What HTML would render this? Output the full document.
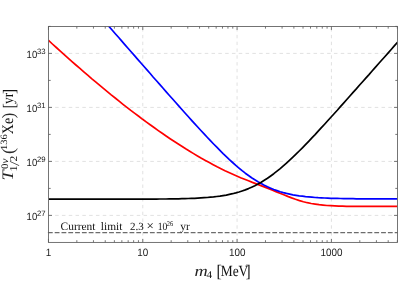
<!DOCTYPE html>
<html><head><meta charset="utf-8"><style>
html,body{margin:0;padding:0;background:#fff;overflow:hidden}
svg{display:block;will-change:transform}
text{text-rendering:geometricPrecision}
.t{font-family:"Liberation Sans",sans-serif;font-size:10.2px;fill:#1a1a1a}
.s{font-family:"Liberation Serif",serif;fill:#111}
</style></head><body>
<svg width="419" height="283" viewBox="0 0 419 283">
<defs><clipPath id="c"><rect x="48.5" y="26.45" width="349.00" height="215.95"/></clipPath></defs>
<rect width="419" height="283" fill="#fff"/>
<g stroke="#d4d4d4" stroke-width="0.7" stroke-dasharray="3.5,3.3" stroke-dashoffset="0.15" fill="none"><line x1="48.50" y1="215.40" x2="397.50" y2="215.40"/><line x1="48.50" y1="161.40" x2="397.50" y2="161.40"/><line x1="48.50" y1="107.40" x2="397.50" y2="107.40"/><line x1="48.50" y1="53.40" x2="397.50" y2="53.40"/></g>
<g stroke="#d4d4d4" stroke-width="0.7" stroke-dasharray="3.4,3.4" stroke-dashoffset="-0.1" fill="none"><line x1="142.77" y1="242.40" x2="142.77" y2="26.45"/><line x1="237.09" y1="242.40" x2="237.09" y2="26.45"/><line x1="331.41" y1="242.40" x2="331.41" y2="26.45"/></g>
<line x1="47.9" x2="397.5" y1="232.63" y2="232.63" stroke="#6c6c6c" stroke-width="1.45" stroke-dasharray="4.8,2.0"/>
<g fill="none" stroke-width="1.7" stroke-linejoin="round" clip-path="url(#c)">
<path d="M48.5,40.4 52.4,44.0 56.3,47.5 60.3,51.1 64.2,54.6 68.1,58.1 72.0,61.6 75.9,65.0 79.9,68.4 83.8,71.8 87.7,75.2 91.6,78.6 95.6,81.9 99.5,85.2 103.4,88.4 107.3,91.7 111.2,94.9 115.2,98.0 119.1,101.2 123.0,104.3 126.9,107.3 130.8,110.4 134.8,113.4 138.7,116.3 142.6,119.3 146.5,122.1 150.5,125.0 154.4,127.8 158.3,130.6 162.2,133.3 166.1,136.0 170.1,138.7 174.0,141.3 177.9,143.8 181.8,146.3 185.7,148.8 189.7,151.2 193.6,153.6 197.5,155.9 201.4,158.2 205.4,160.4 209.3,162.6 213.2,164.7 217.1,166.8 221.0,168.7 225.0,170.7 228.9,172.5 232.8,174.3 236.7,176.0 240.6,177.7 244.6,179.3 248.5,180.8 252.4,182.4 256.3,183.9 260.3,185.4 264.2,186.9 268.1,188.4 272.0,190.0 275.9,191.6 279.9,193.2 283.8,194.8 287.7,196.4 291.6,197.9 295.5,199.3 299.5,200.6 303.4,201.7 307.3,202.7 311.2,203.5 315.2,204.1 319.1,204.7 323.0,205.1 326.9,205.5 330.8,205.7 334.8,205.9 338.7,206.1 342.6,206.2 346.5,206.3 350.4,206.3 354.4,206.3 358.3,206.4 362.2,206.4 366.1,206.4 370.1,206.4 374.0,206.4 377.9,206.4 381.8,206.4 385.7,206.4 389.7,206.4 393.6,206.4 397.5,206.4" stroke="#f00"/>
<path d="M105.8,22.8 108.9,26.4 112.1,30.0 115.3,33.7 118.5,37.3 121.6,40.9 124.8,44.6 128.0,48.2 131.1,51.8 134.3,55.4 137.5,59.1 140.7,62.7 143.8,66.3 147.0,69.9 150.2,73.5 153.3,77.2 156.5,80.8 159.7,84.4 162.9,88.0 166.0,91.6 169.2,95.2 172.4,98.8 175.5,102.3 178.7,105.9 181.9,109.5 185.0,113.0 188.2,116.5 191.4,120.1 194.6,123.6 197.7,127.0 200.9,130.5 204.1,133.9 207.2,137.3 210.4,140.7 213.6,144.0 216.8,147.2 219.9,150.4 223.1,153.6 226.3,156.6 229.4,159.6 232.6,162.5 235.8,165.4 239.0,168.1 242.1,170.7 245.3,173.2 248.5,175.5 251.6,177.8 254.8,179.8 258.0,181.8 261.2,183.6 264.3,185.3 267.5,186.8 270.7,188.2 273.8,189.5 277.0,190.6 280.2,191.7 283.3,192.6 286.5,193.4 289.7,194.1 292.9,194.8 296.0,195.3 299.2,195.8 302.4,196.2 305.5,196.6 308.7,196.9 311.9,197.2 315.1,197.5 318.2,197.7 321.4,197.8 324.6,198.0 327.7,198.1 330.9,198.3 334.1,198.4 337.3,198.4 340.4,198.5 343.6,198.6 346.8,198.6 349.9,198.7 353.1,198.7 356.3,198.8 359.4,198.8 362.6,198.8 365.8,198.8 369.0,198.8 372.1,198.9 375.3,198.9 378.5,198.9 381.6,198.9 384.8,198.9 388.0,198.9 391.2,198.9 394.3,198.9 397.5,198.9" stroke="#00f"/>
<path d="M48.7,199.2 51.9,199.2 55.0,199.2 58.2,199.2 61.4,199.2 64.6,199.2 67.7,199.2 70.9,199.2 74.1,199.2 77.2,199.2 80.4,199.2 83.6,199.2 86.8,199.2 89.9,199.2 93.1,199.2 96.3,199.2 99.4,199.2 102.6,199.2 105.8,199.2 108.9,199.2 112.1,199.2 115.3,199.2 118.5,199.2 121.6,199.2 124.8,199.2 128.0,199.2 131.1,199.2 134.3,199.1 137.5,199.1 140.7,199.1 143.8,199.1 147.0,199.1 150.2,199.1 153.3,199.1 156.5,199.1 159.7,199.0 162.9,199.0 166.0,199.0 169.2,198.9 172.4,198.9 175.5,198.8 178.7,198.8 181.9,198.7 185.0,198.6 188.2,198.5 191.4,198.4 194.6,198.3 197.7,198.1 200.9,197.9 204.1,197.7 207.2,197.5 210.4,197.2 213.6,196.9 216.8,196.5 219.9,196.1 223.1,195.6 226.3,195.1 229.4,194.4 232.6,193.7 235.8,192.9 239.0,192.0 242.1,191.0 245.3,189.9 248.5,188.6 251.6,187.2 254.8,185.7 258.0,184.1 261.2,182.3 264.3,180.3 267.5,178.3 270.7,176.0 273.8,173.7 277.0,171.2 280.2,168.6 283.3,165.9 286.5,163.1 289.7,160.2 292.9,157.2 296.0,154.2 299.2,151.0 302.4,147.8 305.5,144.6 308.7,141.3 311.9,137.9 315.1,134.6 318.2,131.1 321.4,127.7 324.6,124.2 327.7,120.7 330.9,117.2 334.1,113.7 337.3,110.2 340.4,106.6 343.6,103.1 346.8,99.5 349.9,96.0 353.1,92.4 356.3,88.9 359.4,85.3 362.6,81.7 365.8,78.1 369.0,74.6 372.1,71.0 375.3,67.4 378.5,63.8 381.6,60.3 384.8,56.7 388.0,53.1 391.2,49.5 394.3,45.9 397.5,42.4" stroke="#000"/>
</g>
<g stroke="#606060" stroke-width="0.85"><line x1="48.45" y1="242.40" x2="48.45" y2="238.90"/><line x1="48.45" y1="26.45" x2="48.45" y2="29.95"/><line x1="76.84" y1="242.40" x2="76.84" y2="240.20"/><line x1="76.84" y1="26.45" x2="76.84" y2="28.65"/><line x1="93.45" y1="242.40" x2="93.45" y2="240.20"/><line x1="93.45" y1="26.45" x2="93.45" y2="28.65"/><line x1="105.24" y1="242.40" x2="105.24" y2="240.20"/><line x1="105.24" y1="26.45" x2="105.24" y2="28.65"/><line x1="114.38" y1="242.40" x2="114.38" y2="240.20"/><line x1="114.38" y1="26.45" x2="114.38" y2="28.65"/><line x1="121.85" y1="242.40" x2="121.85" y2="240.20"/><line x1="121.85" y1="26.45" x2="121.85" y2="28.65"/><line x1="128.16" y1="242.40" x2="128.16" y2="240.20"/><line x1="128.16" y1="26.45" x2="128.16" y2="28.65"/><line x1="133.63" y1="242.40" x2="133.63" y2="240.20"/><line x1="133.63" y1="26.45" x2="133.63" y2="28.65"/><line x1="138.45" y1="242.40" x2="138.45" y2="240.20"/><line x1="138.45" y1="26.45" x2="138.45" y2="28.65"/><line x1="142.77" y1="242.40" x2="142.77" y2="238.90"/><line x1="142.77" y1="26.45" x2="142.77" y2="29.95"/><line x1="171.16" y1="242.40" x2="171.16" y2="240.20"/><line x1="171.16" y1="26.45" x2="171.16" y2="28.65"/><line x1="187.77" y1="242.40" x2="187.77" y2="240.20"/><line x1="187.77" y1="26.45" x2="187.77" y2="28.65"/><line x1="199.56" y1="242.40" x2="199.56" y2="240.20"/><line x1="199.56" y1="26.45" x2="199.56" y2="28.65"/><line x1="208.70" y1="242.40" x2="208.70" y2="240.20"/><line x1="208.70" y1="26.45" x2="208.70" y2="28.65"/><line x1="216.17" y1="242.40" x2="216.17" y2="240.20"/><line x1="216.17" y1="26.45" x2="216.17" y2="28.65"/><line x1="222.48" y1="242.40" x2="222.48" y2="240.20"/><line x1="222.48" y1="26.45" x2="222.48" y2="28.65"/><line x1="227.95" y1="242.40" x2="227.95" y2="240.20"/><line x1="227.95" y1="26.45" x2="227.95" y2="28.65"/><line x1="232.77" y1="242.40" x2="232.77" y2="240.20"/><line x1="232.77" y1="26.45" x2="232.77" y2="28.65"/><line x1="237.09" y1="242.40" x2="237.09" y2="238.90"/><line x1="237.09" y1="26.45" x2="237.09" y2="29.95"/><line x1="265.48" y1="242.40" x2="265.48" y2="240.20"/><line x1="265.48" y1="26.45" x2="265.48" y2="28.65"/><line x1="282.09" y1="242.40" x2="282.09" y2="240.20"/><line x1="282.09" y1="26.45" x2="282.09" y2="28.65"/><line x1="293.88" y1="242.40" x2="293.88" y2="240.20"/><line x1="293.88" y1="26.45" x2="293.88" y2="28.65"/><line x1="303.02" y1="242.40" x2="303.02" y2="240.20"/><line x1="303.02" y1="26.45" x2="303.02" y2="28.65"/><line x1="310.49" y1="242.40" x2="310.49" y2="240.20"/><line x1="310.49" y1="26.45" x2="310.49" y2="28.65"/><line x1="316.80" y1="242.40" x2="316.80" y2="240.20"/><line x1="316.80" y1="26.45" x2="316.80" y2="28.65"/><line x1="322.27" y1="242.40" x2="322.27" y2="240.20"/><line x1="322.27" y1="26.45" x2="322.27" y2="28.65"/><line x1="327.09" y1="242.40" x2="327.09" y2="240.20"/><line x1="327.09" y1="26.45" x2="327.09" y2="28.65"/><line x1="331.41" y1="242.40" x2="331.41" y2="238.90"/><line x1="331.41" y1="26.45" x2="331.41" y2="29.95"/><line x1="359.80" y1="242.40" x2="359.80" y2="240.20"/><line x1="359.80" y1="26.45" x2="359.80" y2="28.65"/><line x1="376.41" y1="242.40" x2="376.41" y2="240.20"/><line x1="376.41" y1="26.45" x2="376.41" y2="28.65"/><line x1="388.20" y1="242.40" x2="388.20" y2="240.20"/><line x1="388.20" y1="26.45" x2="388.20" y2="28.65"/><line x1="397.34" y1="242.40" x2="397.34" y2="240.20"/><line x1="397.34" y1="26.45" x2="397.34" y2="28.65"/><line x1="48.50" y1="215.40" x2="52.00" y2="215.40"/><line x1="397.50" y1="215.40" x2="394.00" y2="215.40"/><line x1="48.50" y1="188.40" x2="50.70" y2="188.40"/><line x1="397.50" y1="188.40" x2="395.30" y2="188.40"/><line x1="48.50" y1="161.40" x2="52.00" y2="161.40"/><line x1="397.50" y1="161.40" x2="394.00" y2="161.40"/><line x1="48.50" y1="134.40" x2="50.70" y2="134.40"/><line x1="397.50" y1="134.40" x2="395.30" y2="134.40"/><line x1="48.50" y1="107.40" x2="52.00" y2="107.40"/><line x1="397.50" y1="107.40" x2="394.00" y2="107.40"/><line x1="48.50" y1="80.40" x2="50.70" y2="80.40"/><line x1="397.50" y1="80.40" x2="395.30" y2="80.40"/><line x1="48.50" y1="53.40" x2="52.00" y2="53.40"/><line x1="397.50" y1="53.40" x2="394.00" y2="53.40"/><line x1="48.50" y1="26.40" x2="50.70" y2="26.40"/><line x1="397.50" y1="26.40" x2="395.30" y2="26.40"/></g>
<rect x="48.5" y="26.45" width="349.00" height="215.95" fill="none" stroke="#5c5c5c" stroke-width="0.85"/>
<g class="t"><text x="48.55" y="255.9" text-anchor="middle" font-size="10.6" textLength="5.50" lengthAdjust="spacingAndGlyphs">1</text><text x="142.87" y="255.9" text-anchor="middle" font-size="10.6" textLength="11.00" lengthAdjust="spacingAndGlyphs">10</text><text x="237.19" y="255.9" text-anchor="middle" font-size="10.6" textLength="16.50" lengthAdjust="spacingAndGlyphs">100</text><text x="331.51" y="255.9" text-anchor="middle" font-size="10.6" textLength="22.00" lengthAdjust="spacingAndGlyphs">1000</text><text x="37.2" y="219.55" text-anchor="end" font-size="10.4" textLength="10.6" lengthAdjust="spacingAndGlyphs">10</text><text x="45.7" y="215.95" text-anchor="end" font-size="7.8">27</text><text x="37.2" y="165.55" text-anchor="end" font-size="10.4" textLength="10.6" lengthAdjust="spacingAndGlyphs">10</text><text x="45.7" y="161.95" text-anchor="end" font-size="7.8">29</text><text x="37.2" y="111.55" text-anchor="end" font-size="10.4" textLength="10.6" lengthAdjust="spacingAndGlyphs">10</text><text x="45.7" y="107.95" text-anchor="end" font-size="7.8">31</text><text x="37.2" y="57.55" text-anchor="end" font-size="10.4" textLength="10.6" lengthAdjust="spacingAndGlyphs">10</text><text x="45.7" y="53.95" text-anchor="end" font-size="7.8">33</text></g>
<g class="s" font-size="11.4">
<text x="60.6" y="229.5">Current</text>
<text x="100.8" y="229.5">limit</text>
<text x="130.0" y="229.5" font-size="11">2.3</text>
<text x="146.4" y="229.9" font-size="13">×</text>
<text x="157.7" y="229.5" font-size="11" textLength="9.6" lengthAdjust="spacingAndGlyphs">10</text>
<text x="166.8" y="225.6" font-size="7.4" textLength="6.4" lengthAdjust="spacingAndGlyphs">26</text>
<text x="180.3" y="229.5">yr</text>
</g>

<g class="s">
<text x="194.6" y="276.4" font-size="15.5" font-style="italic" textLength="13.2" lengthAdjust="spacingAndGlyphs" fill="#222">m</text>
<text x="206.6" y="278.4" font-size="10.2" textLength="5.6" lengthAdjust="spacingAndGlyphs">4</text>
<text x="216.4" y="277.2" font-size="17.5" textLength="5.2" lengthAdjust="spacingAndGlyphs">[</text>
<text x="220.7" y="276.4" font-size="15.5" textLength="27.6" lengthAdjust="spacingAndGlyphs">MeV</text>
<text x="245.4" y="277.2" font-size="17.5" textLength="5.2" lengthAdjust="spacingAndGlyphs">]</text>
</g>

<g transform="translate(13.3,180) rotate(-90)" class="s">
<text x="-0.4" y="0" font-size="16" font-style="italic" textLength="10.2" lengthAdjust="spacingAndGlyphs" fill="#222">T</text>
<text x="11.0" y="-5.3" font-size="10" textLength="10.4" lengthAdjust="spacingAndGlyphs"><tspan>0</tspan><tspan font-style="italic">ν</tspan></text>
<text x="8.5" y="4.0" font-size="10.5" textLength="6.1" lengthAdjust="spacingAndGlyphs">1</text>
<text x="13.9" y="6.1" font-size="13.8" textLength="5.0" lengthAdjust="spacingAndGlyphs" fill="#2a2a2a">/</text>
<text x="18.4" y="4.0" font-size="10.5" textLength="5.7" lengthAdjust="spacingAndGlyphs">2</text>
<text x="26.0" y="0.5" font-size="17.5" textLength="6.0" lengthAdjust="spacingAndGlyphs" fill="#2a2a2a">(</text>
<text x="30.0" y="-6.4" font-size="9.6" textLength="15.8" lengthAdjust="spacingAndGlyphs">136</text>
<text x="45.8" y="0" font-size="16" textLength="16.4" lengthAdjust="spacingAndGlyphs">Xe</text>
<text x="61.7" y="0.7" font-size="17.5" textLength="5.4" lengthAdjust="spacingAndGlyphs" fill="#2a2a2a">)</text>
<text x="71.6" y="1.6" font-size="17.5" textLength="5.2" lengthAdjust="spacingAndGlyphs">[</text>
<text x="76.0" y="0" font-size="15.5" textLength="11.2" lengthAdjust="spacingAndGlyphs">yr</text>
<text x="85.9" y="1.6" font-size="17.5" textLength="5.2" lengthAdjust="spacingAndGlyphs">]</text>
</g>

</svg>
</body></html>
